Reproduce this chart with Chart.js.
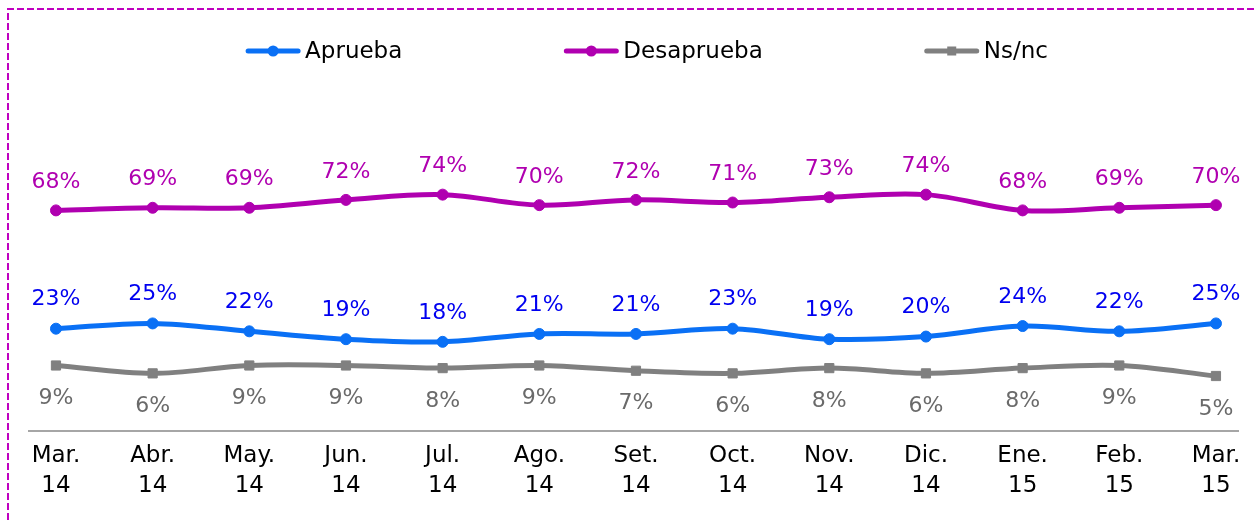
<!DOCTYPE html>
<html>
<head>
<meta charset="utf-8">
<script src="https://cdn.jsdelivr.net/npm/chart.js@4/dist/chart.umd.min.js"></script>
<style>
  html, body { margin: 0; padding: 0; background: #ffffff; }
  #wrap { position: relative; width: 1256px; height: 520px; }
</style>
</head>
<body>
<div id="wrap"><canvas id="chart" width="1256" height="520"></canvas></div>
<script>
// ---- data ----
const monthLabels = ['Mar.', 'Abr.', 'May.', 'Jun.', 'Jul.', 'Ago.', 'Set.', 'Oct.', 'Nov.', 'Dic.', 'Ene.', 'Feb.', 'Mar.'];
const yearLabels  = ['14', '14', '14', '14', '14', '14', '14', '14', '14', '14', '15', '15', '15'];
const seriesNames = ['Aprueba', 'Desaprueba', 'Ns/nc'];
const aprueba     = [23, 25, 22, 19, 18, 21, 21, 23, 19, 20, 24, 22, 25];
const desaprueba  = [68, 69, 69, 72, 74, 70, 72, 71, 73, 74, 68, 69, 70];
const nsnc        = [9, 6, 9, 9, 8, 9, 7, 6, 8, 6, 8, 9, 5];

const FONT = "'DejaVu Sans', 'Verdana', sans-serif";

function toPoints(arr) { return arr.map((v, i) => ({ x: i, y: v })); }

// styles per series (kept apart from data)
const styles = [
  { line: '#0A70F5', text: '#0000F0', pointStyle: 'circle', radius: 5.5, labelOffset: -29 },
  { line: '#B000B0', text: '#B000B0', pointStyle: 'circle', radius: 5.5, labelOffset: -28 },
  { line: '#808080', text: '#6A6A6A', pointStyle: 'rect',   radius: 6.5, labelOffset: 33 }
];
const seriesValues = [aprueba, desaprueba, nsnc];

const datasets = seriesNames.map((name, i) => ({
  label: name,
  data: toPoints(seriesValues[i]),
  borderColor: styles[i].line,
  backgroundColor: styles[i].line,
  pointBackgroundColor: styles[i].line,
  pointBorderColor: styles[i].line,
  pointStyle: styles[i].pointStyle,
  pointRadius: styles[i].radius,
  pointBorderWidth: 1,
  borderWidth: 5,
  tension: 0.35,
  fill: false
}));

// dashed frame
const framePlugin = {
  id: 'frame',
  beforeDraw(chart) {
    const ctx = chart.ctx;
    ctx.save();
    ctx.strokeStyle = '#C000C0';
    ctx.lineWidth = 2;
    ctx.setLineDash([7, 3]);
    ctx.beginPath();
    ctx.moveTo(8, chart.height);
    ctx.lineTo(8, 9);
    ctx.lineTo(chart.width, 9);
    ctx.stroke();
    ctx.restore();
  }
};

// custom legend (wide spacing)
const legendPlugin = {
  id: 'wideLegend',
  afterDraw(chart) {
    const ctx = chart.ctx;
    const lineLen = 54, gapText = 5, itemGap = 162, y = 51;
    ctx.save();
    ctx.font = '23px ' + FONT;
    ctx.textBaseline = 'middle';
    ctx.textAlign = 'left';
    const items = chart.data.datasets.map((ds, i) => ({
      ds, st: styles[i], w: lineLen + gapText + ctx.measureText(ds.label).width
    }));
    const total = items.reduce((s, it) => s + it.w, 0) + itemGap * (items.length - 1);
    let x = 647 - total / 2;
    items.forEach(it => {
      ctx.strokeStyle = it.st.line;
      ctx.fillStyle = it.st.line;
      ctx.lineWidth = 5;
      ctx.lineCap = 'round';
      ctx.beginPath();
      ctx.moveTo(x + 2, y);
      ctx.lineTo(x + lineLen - 2, y);
      ctx.stroke();
      const cx = x + lineLen / 2;
      if (it.st.pointStyle === 'rect') {
        ctx.fillRect(cx - 4.5, y - 4.5, 9, 9);
      } else {
        ctx.beginPath();
        ctx.arc(cx, y, 5.5, 0, Math.PI * 2);
        ctx.fill();
      }
      ctx.fillStyle = '#000000';
      ctx.fillText(it.ds.label, x + lineLen + gapText, y + 1);
      x += it.w + itemGap;
    });
    ctx.restore();
  }
};

// value labels
const valueLabelPlugin = {
  id: 'valueLabels',
  afterDatasetsDraw(chart) {
    const ctx = chart.ctx;
    ctx.save();
    ctx.font = '22px ' + FONT;
    ctx.textAlign = 'center';
    ctx.textBaseline = 'middle';
    chart.data.datasets.forEach((ds, i) => {
      const meta = chart.getDatasetMeta(i);
      ctx.fillStyle = styles[i].text;
      meta.data.forEach((pt, j) => {
        ctx.fillText(ds.data[j].y + '%', pt.x, pt.y + styles[i].labelOffset);
      });
    });
    ctx.restore();
  }
};

new Chart(document.getElementById('chart'), {
  type: 'line',
  data: { datasets },
  options: {
    responsive: false,
    animation: false,
    devicePixelRatio: 1,
    layout: { padding: { top: 100, left: 29, right: 18, bottom: 9 } },
    plugins: { legend: { display: false }, tooltip: { enabled: false } },
    scales: {
      x: {
        type: 'linear',
        min: -0.279,
        max: 12.228,
        afterBuildTicks(scale) {
          scale.ticks = monthLabels.map((_, i) => ({ value: i }));
        },
        ticks: {
          autoSkip: false,
          maxRotation: 0,
          padding: 10,
          color: '#000000',
          font: { family: FONT, size: 23, lineHeight: 1.3 },
          callback: (v) => [monthLabels[v], yearLabels[v]]
        },
        grid: { display: false, drawTicks: false, tickLength: 0 },
        border: { display: true, color: '#A6A6A6', width: 2 }
      },
      y: {
        display: false,
        min: -16,
        max: 110
      }
    }
  },
  plugins: [framePlugin, legendPlugin, valueLabelPlugin]
});
</script>
</body>
</html>
